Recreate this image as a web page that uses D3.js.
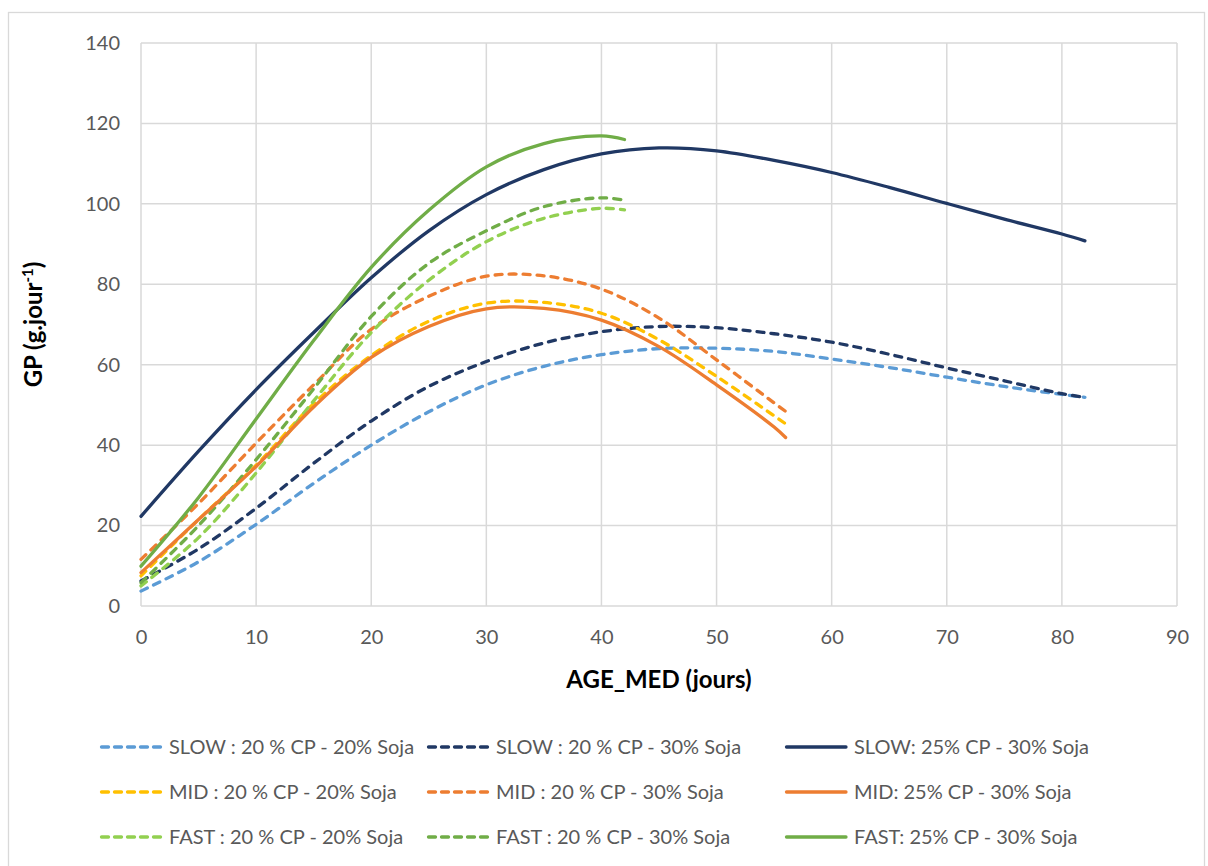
<!DOCTYPE html>
<html><head><meta charset="utf-8">
<script src="https://cdn.jsdelivr.net/npm/d3@7"></script>
<style>
html,body{margin:0;padding:0;background:#fff;}
text{font-family:Lato,"Open Sans",sans-serif;}
</style></head>
<body><svg id="c" width="1208" height="866"></svg>
<script>
// ---- data ----
const agesSlow = [0,5,10,15,20,25,30,35,40,45,50,55,60,65,70,75,80,82];
const agesMid  = [0,5,10,15,20,25,30,35,40,45,50,55,56];
const agesFast = [0,5,10,15,20,25,30,35,40,42];

const slow2020 = [3.7,11,20.3,30.5,40,48.3,55,59.6,62.5,64,64.1,63.3,61.4,59.3,56.9,54.6,52.6,51.9];
const slow2030 = [6.2,14.2,24.3,35.5,46,54.6,60.8,65.4,68.2,69.5,69.2,67.7,65.6,62.6,59.2,56,52.8,51.9];
const slow2530 = [22.3,38.5,53.8,68,81.6,93.3,102.3,108.5,112.4,113.9,113.2,110.8,107.8,104.1,100.1,96.2,92.5,90.8];

const mid2020 = [7.5,21.5,35,50.3,62.3,70.8,75.3,75.5,72.8,66.2,57.1,47.3,45.3];
const mid2030 = [11.6,25.5,40.5,55,68.8,77,82.0,82.1,78.8,71.6,61.2,50.5,48.4];
const mid2530 = [8.3,21.5,34.7,49.5,61.8,69.5,73.9,74.0,71.1,64.5,55,44.5,41.9];

const fast2020 = [5.0,17,33.1,51,68,81,90.6,96.4,98.9,98.5];
const fast2030 = [5.8,20,36.4,54,72,85.2,93.3,99.3,101.5,100.9];
const fast2530 = [9.9,27,46.5,66,84.2,98.4,109.2,115,116.9,116];

const xTicks = [0,10,20,30,40,50,60,70,80,90];
const yTicks = [0,20,40,60,80,100,120,140];

const seriesNames = [
  "SLOW : 20 % CP - 20% Soja","SLOW : 20 % CP - 30% Soja","SLOW: 25% CP - 30% Soja",
  "MID : 20 % CP - 20% Soja","MID : 20 % CP - 30% Soja","MID: 25% CP - 30% Soja",
  "FAST : 20 % CP - 20% Soja","FAST : 20 % CP - 30% Soja","FAST: 25% CP - 30% Soja"];
const seriesColors = ["#5B9BD5","#203864","#203864","#FFC000","#ED7D31","#ED7D31","#92D050","#70AD47","#70AD47"];
const seriesDashed = [true,true,false,true,true,false,true,true,false];

const series = [
  {ages:agesSlow, vals:slow2020},{ages:agesSlow, vals:slow2030},{ages:agesSlow, vals:slow2530},
  {ages:agesMid, vals:mid2020},{ages:agesMid, vals:mid2030},{ages:agesMid, vals:mid2530},
  {ages:agesFast, vals:fast2020},{ages:agesFast, vals:fast2030},{ages:agesFast, vals:fast2530}
].map((s,i)=>({name:seriesNames[i],color:seriesColors[i],dashed:seriesDashed[i],
  pts:s.ages.map((a,j)=>[a,s.vals[j]])}));

// ---- chart ----
const svg = d3.select("#c");
const L=141, R=1177, T=43, B=606;
const x = d3.scaleLinear().domain([0,90]).range([L,R]);
const y = d3.scaleLinear().domain([0,140]).range([B,T]);

svg.append("rect").attr("x",8.5).attr("y",12.5).attr("width",1196).attr("height",900)
  .attr("fill","#fff").attr("stroke","#D9D9D9").attr("stroke-width",1.3);

const grid = svg.append("g");
grid.selectAll(".gx").data(xTicks).join("line")
  .attr("x1",d=>x(d)).attr("x2",d=>x(d)).attr("y1",T).attr("y2",B)
  .attr("stroke","#D9D9D9").attr("stroke-width",1.5);
grid.selectAll(".gy").data(yTicks).join("line")
  .attr("y1",d=>y(d)).attr("y2",d=>y(d)).attr("x1",L).attr("x2",R)
  .attr("stroke","#D9D9D9").attr("stroke-width",1.5);

const xAxis = svg.append("g").attr("transform",`translate(0,${B})`)
  .call(d3.axisBottom(x).tickValues(xTicks).tickSize(0).tickPadding(24));
xAxis.select(".domain").remove();
xAxis.selectAll("text").attr("font-size",20).attr("fill","#595959").attr("font-family","Lato,sans-serif");

const yAxis = svg.append("g").attr("transform",`translate(${L},0)`)
  .call(d3.axisLeft(y).tickValues(yTicks).tickSize(0).tickPadding(21));
yAxis.select(".domain").remove();
yAxis.selectAll("text").attr("font-size",20).attr("fill","#595959").attr("font-family","Lato,sans-serif");

svg.append("text").attr("x",659).attr("y",688).attr("text-anchor","middle")
  .attr("font-size",24).attr("font-weight","bold").attr("fill","#000").text("AGE_MED (jours)");

const yt = svg.append("text").attr("transform",`translate(42,${(T+B)/2}) rotate(-90)`)
  .attr("text-anchor","middle").attr("font-size",24).attr("font-weight","bold").attr("fill","#000");
yt.append("tspan").text("GP (g.jour");
yt.append("tspan").attr("font-size",15).attr("dy",-9).text("-1");
yt.append("tspan").attr("dy",9).text(")");

const line = d3.line().x(d=>x(d[0])).y(d=>y(d[1])).curve(d3.curveCatmullRom.alpha(0.5));
const order = [0,1,3,4,6,7,5,2,8];
svg.append("g").selectAll("path").data(order.map(i=>series[i])).join("path")
  .attr("d",d=>line(d.pts)).attr("fill","none").attr("stroke",d=>d.color)
  .attr("stroke-width",3.3).attr("stroke-linecap","round")
  .attr("stroke-dasharray",d=>d.dashed?"7,7":null);

// legend
const colX=[100,427,785], rowY=[747,792,837];
const lg = svg.append("g");
series.forEach((s,i)=>{
  const cx=colX[i%3], cy=rowY[Math.floor(i/3)];
  lg.append("line").attr("x1",cx+1.5).attr("x2",cx+61).attr("y1",cy).attr("y2",cy)
    .attr("stroke",s.color).attr("stroke-width",3.3).attr("stroke-linecap","round")
    .attr("stroke-dasharray",s.dashed?"7,6":null);
  lg.append("text").attr("x",cx+69).attr("y",cy).attr("dy","0.35em")
    .attr("font-size",20).attr("fill","#595959").text(s.name);
});
</script></body></html>
